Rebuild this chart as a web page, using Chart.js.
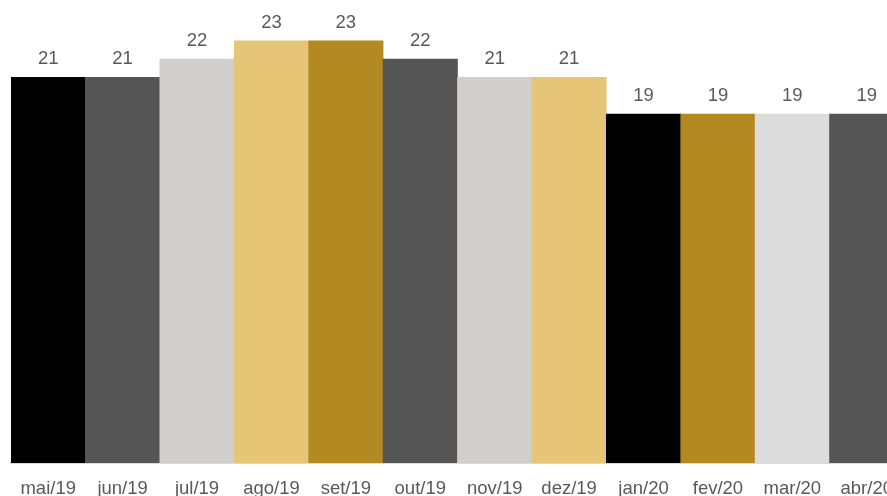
<!DOCTYPE html>
<html>
<head>
<meta charset="utf-8">
<title>Dias úteis por mês</title>
<script src="https://cdn.jsdelivr.net/npm/chart.js@4/dist/chart.umd.min.js"></script>
<style>
  html, body { margin: 0; padding: 0; background: #fff; overflow: hidden; }
  #Chart_Div { width: 908px; height: 496px; }
</style>
</head>
<body>

<div id="Chart_Div">
<canvas id="myChart" width="908" height="496"></canvas>
</div>

<script type="text/javascript">
const MESES = ['mai/19', 'jun/19', 'jul/19', 'ago/19', 'set/19', 'out/19',
               'nov/19', 'dez/19', 'jan/20', 'fev/20', 'mar/20', 'abr/20'];

const DIAS = [21, 21, 22, 23, 23, 22, 21, 21, 19, 19, 19, 19];

const CORES = ['#000000', '#555555', '#d0cfce', '#e6c577', '#b38921', '#555555',
               '#d0cfce', '#e6c577', '#000000', '#b38921', '#dcdcdc', '#555555'];

const FONTE = '"Liberation Sans", Arial, sans-serif';

// rótulos em cima das barras
const rotulosPlugin = {
  id: 'rotulos',
  afterDatasetsDraw(chart) {
    const ctx = chart.ctx;
    const meta = chart.getDatasetMeta(0);
    ctx.save();
    ctx.font = '18.5px ' + FONTE;
    ctx.fillStyle = '#595959';
    ctx.textAlign = 'center';
    ctx.textBaseline = 'alphabetic';
    meta.data.forEach((bar, i) => {
      ctx.fillText(String(DIAS[i]), bar.x, bar.y - 13);
    });
    ctx.restore();
  }
};

const config = {
  type: 'bar',
  data: {
    labels: MESES,
    datasets: [{
      data: DIAS,
      backgroundColor: CORES,
      borderWidth: 0,
      barPercentage: 1,
      categoryPercentage: 1
    }]
  },
  options: {
    responsive: false,
    animation: false,
    layout: { padding: { left: 11, right: 0, top: 4, bottom: 0 } },
    plugins: {
      legend: { display: false },
      tooltip: { enabled: false }
    },
    scales: {
      x: {
        grid: { display: false, drawTicks: false },
        border: { display: true, color: '#d9d9d9', width: 2 },
        ticks: {
          color: '#595959',
          padding: 15,
          maxRotation: 0,
          autoSkip: false,
          font: { family: FONTE, size: 18.5 }
        },
        afterFit(scale) { scale.height = 33; }
      },
      y: {
        display: false,
        min: 0,
        max: 25
      }
    }
  },
  plugins: [rotulosPlugin]
};

const ctx = document.getElementById('myChart');
const myChart = new Chart(ctx, config);
</script>

</body>
</html>
